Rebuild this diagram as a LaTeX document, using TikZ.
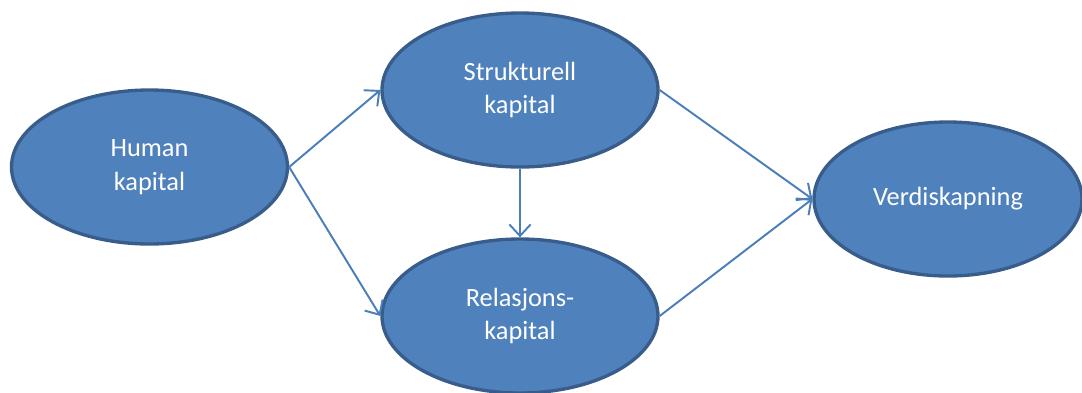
\documentclass[tikz,border=0pt]{standalone}
\usepackage{fontspec}
\setmainfont{Carlito}
\usepackage{xcolor}
\usepackage{tikz}
\usetikzlibrary{arrows.meta,positioning,shapes.geometric}
\definecolor{ovalblue}{RGB}{79,129,189}
\definecolor{ovalline}{RGB}{56,93,138}
\definecolor{arrblue}{RGB}{74,126,187}

\begin{document}
\begin{tikzpicture}[
  font=\fontsize{15}{19}\selectfont,
  oval/.style={ellipse, draw=ovalline, line width=1.9pt, fill=ovalblue, text=white,
    align=center, inner sep=0pt, minimum width=5.52cm, minimum height=3.08cm},
  ar/.style={-{Straight Barb[length=6.5pt,width=12pt,line width=1.1pt]}, draw=arrblue, line width=1.1pt}
]
\useasboundingbox (0,0) rectangle (21.64,-7.84);
% ---- nodes ------------------------------------------------------------------
\node[oval] (human) at (2.99, -3.34) {Human\\kapital};
\node[oval] (strukt) at (10.4, -1.8) {Strukturell\\kapital};
\node[oval] (relasj) at (10.4, -6.32) {Relasjons-\\kapital};
\node[oval, minimum width=5.36cm] (verdi) at (18.96, -3.98) {Verdiskapning};

% ---- edges ------------------------------------------------------------------
\draw[ar] (human.east) -- (strukt.west);
\draw[ar] (human.east) -- (relasj.west);
\draw[ar] (strukt.south) -- (relasj.north);
\draw[ar] (strukt.east) -- (verdi.west);
\draw[ar] (relasj.east) -- (verdi.west);
\end{tikzpicture}
\end{document}
